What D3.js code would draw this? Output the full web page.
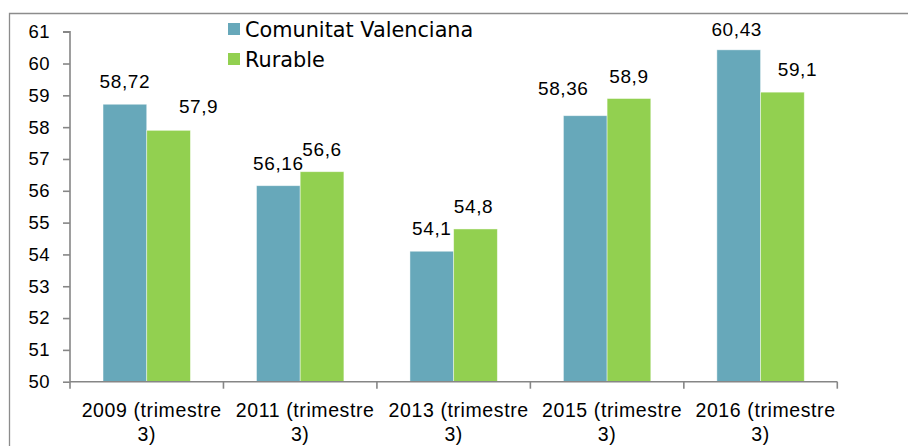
<!DOCTYPE html>
<html>
<head>
<meta charset="utf-8">
<script src="https://cdn.jsdelivr.net/npm/d3@7"></script>
<style>
  html, body { margin: 0; padding: 0; background: #fff; }
  svg { display: block; }
</style>
</head>
<body>
<svg id="chart" width="908" height="446"></svg>
<script>
// ---- data ----
const categories = ["2009 (trimestre 3)", "2011 (trimestre 3)", "2013 (trimestre 3)", "2015 (trimestre 3)", "2016 (trimestre 3)"];
const categoryLines = [["2009 (trimestre", "3)"], ["2011 (trimestre", "3)"], ["2013 (trimestre", "3)"], ["2015 (trimestre", "3)"], ["2016 (trimestre", "3)"]];
const seriesNames = ["Comunitat Valenciana", "Rurable"];
const valenciana = [58.72, 56.16, 54.1, 58.36, 60.43];
const rurable = [57.9, 56.6, 54.8, 58.9, 59.1];
const valencianaLabels = ["58,72", "56,16", "54,1", "58,36", "60,43"];
const rurableLabels = ["57,9", "56,6", "54,8", "58,9", "59,1"];
const yTicks = [50, 51, 52, 53, 54, 55, 56, 57, 58, 59, 60, 61];

// ---- layout / style (not data) ----
const colors = ["#67a8ba", "#92d050"];
// manual nudges of individual data labels, as in the original (dx, dy)
const labelNudge = [
  [[0, 0], [0, 0], [0, 0], [-22, -5], [-2, 2]],
  [[30, -1], [0, 0], [-2, 0], [0, 0], [15, 0]]
];

const svg = d3.select("#chart");

// frame
svg.append("path")
  .attr("d", "M9.5,446 L9.5,13.5 L908,13.5")
  .attr("fill", "none").attr("stroke", "#8c8c8c").attr("stroke-width", 1.3);

const x = d3.scaleBand().domain(categories).range([70, 837.3]).padding(0);
const y = d3.scaleLinear().domain([50, 61]).range([381.7, 31.7]);
const barW = 43.7;

const series = [valenciana, rurable];
const seriesLabels = [valencianaLabels, rurableLabels];

// bars
series.forEach((vals, s) => {
  svg.append("g").selectAll("rect")
    .data(vals)
    .join("rect")
    .attr("x", (d, i) => x(categories[i]) + x.bandwidth() / 2 - barW + s * barW)
    .attr("y", d => y(d))
    .attr("width", barW)
    .attr("height", d => y(50) - y(d))
    .attr("fill", colors[s])
    .attr("stroke", "rgba(255,255,255,0.55)")
    .attr("stroke-width", 0.8);
});

// y axis
const yAxis = svg.append("g")
  .attr("transform", "translate(70,0)")
  .call(d3.axisLeft(y).tickValues(yTicks).tickSize(7).tickPadding(13).tickFormat(d3.format("d")));
yAxis.select(".domain").attr("stroke", "#868686").attr("stroke-width", 1.6).attr("d", `M-7,${y(61)}H0V${y(50)}`);
yAxis.selectAll(".tick line").attr("stroke", "#868686").attr("stroke-width", 1.6);
yAxis.selectAll(".tick text")
  .attr("fill", "#000")
  .style("font-family", "'Liberation Sans', Arial, sans-serif")
  .style("font-size", "18.5px")
  .style("letter-spacing", "0.5px");

// x axis
const xAxis = svg.append("g")
  .attr("transform", `translate(0,${y(50)})`)
  .call(d3.axisBottom(x).tickSize(0).tickFormat(""));
xAxis.select(".domain").remove();
xAxis.selectAll(".tick line").remove();
xAxis.append("line")
  .attr("x1", 70).attr("x2", 837.3).attr("y1", 0).attr("y2", 0)
  .attr("stroke", "#868686").attr("stroke-width", 1.6);
const boundaries = categories.map(c => x(c)).concat([x.range()[1]]);
xAxis.selectAll(".bound")
  .data(boundaries)
  .join("line")
  .attr("x1", d => d).attr("x2", d => d)
  .attr("y1", 0).attr("y2", 7)
  .attr("stroke", "#868686").attr("stroke-width", 1.6);

// x labels (two lines)
categories.forEach((c, i) => {
  const t = svg.append("text")
    .attr("text-anchor", "middle")
    .attr("fill", "#000")
    .style("font-family", "'Liberation Sans', Arial, sans-serif")
    .style("font-size", "19.5px")
    .style("letter-spacing", "0.6px");
  categoryLines[i].forEach((line, k) => {
    t.append("tspan")
      .attr("x", x(c) + x.bandwidth() / 2 + (k === 0 ? 5 : 0))
      .attr("y", 417 + k * 24)
      .text(line);
  });
});

// data labels
series.forEach((vals, s) => {
  svg.append("g").selectAll("text")
    .data(vals)
    .join("text")
    .attr("x", (d, i) => x(categories[i]) + x.bandwidth() / 2 - barW / 2 + s * barW + labelNudge[s][i][0])
    .attr("y", (d, i) => y(d) - 16 + labelNudge[s][i][1])
    .attr("text-anchor", "middle")
    .attr("fill", "#000")
    .style("font-family", "'Liberation Sans', Arial, sans-serif")
    .style("font-size", "19px")
    .style("letter-spacing", "0.6px")
    .text((d, i) => seriesLabels[s][i]);
});

// legend
const legend = svg.append("g");
seriesNames.forEach((name, s) => {
  const g = legend.append("g").attr("transform", `translate(228,${23 + s * 30})`);
  g.append("rect").attr("x", 0).attr("y", 0).attr("width", 12).attr("height", 12).attr("fill", colors[s]);
  g.append("text")
    .attr("x", 17).attr("y", 13.5)
    .attr("fill", "#000")
    .style("font-family", "'DejaVu Sans', Verdana, sans-serif")
    .style("font-size", "20.8px")
    .text(name);
});
</script>
</body>
</html>
